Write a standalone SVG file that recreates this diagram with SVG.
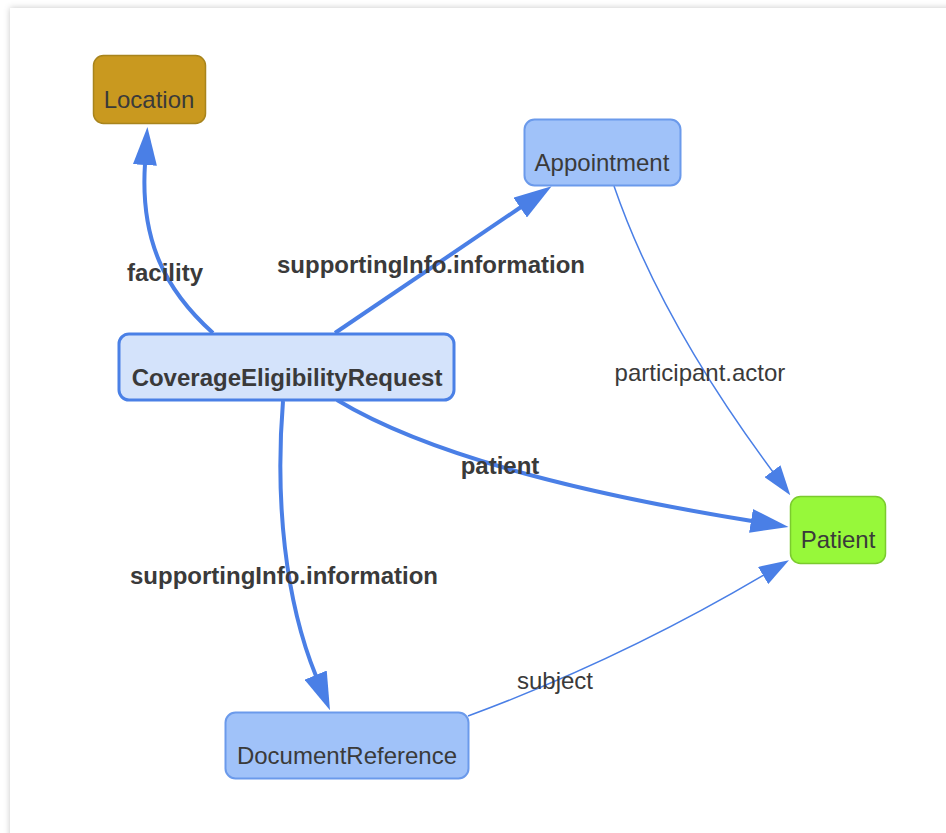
<svg xmlns="http://www.w3.org/2000/svg" width="946" height="833" viewBox="0 0 946 833">
  <defs>
    <filter id="cardShadow" x="-5%" y="-5%" width="110%" height="110%">
      <feDropShadow dx="0" dy="0" stdDeviation="3" flood-color="#000" flood-opacity="0.22"/>
    </filter>
    <marker id="arrowBig" viewBox="0 0 38 24" refX="1" refY="12" markerWidth="38" markerHeight="24" markerUnits="userSpaceOnUse" orient="auto">
      <path d="M0,0 L38,12 L0,24 Z" fill="#4a7fe6"/>
    </marker>
    <marker id="arrowSmall" viewBox="0 0 30 20" refX="1" refY="10" markerWidth="30" markerHeight="20" markerUnits="userSpaceOnUse" orient="auto">
      <path d="M0,0 L30,10 L0,20 Z" fill="#4a7fe6"/>
    </marker>
  </defs>
  <style>
    .node-text { font-family: "Liberation Sans", Arial, sans-serif; font-size: 24px; fill: #3a3a3a; text-anchor: middle; }
    .bold { font-weight: bold; }
    .edge-label { font-family: "Liberation Sans", Arial, sans-serif; font-size: 24px; fill: #3a3a3a; text-anchor: middle; }
    .edge-thick { fill: none; stroke: #4a7fe6; stroke-width: 4; marker-end: url(#arrowBig); }
    .edge-thin { fill: none; stroke: #4a7fe6; stroke-width: 1.5; marker-end: url(#arrowSmall); }
    .blue-node { fill: #a0c2f9; stroke: #6b9aeb; stroke-width: 2; }
  </style>

  <rect width="946" height="833" fill="#ffffff"/>
  <!-- card panel -->
  <rect x="10" y="8" width="960" height="860" fill="#ffffff" filter="url(#cardShadow)"/>

  <g id="edges">
    <!-- facility -->
    <path class="edge-thick" d="M213,333 C165,290 140,240 145,164"/>
    <text class="edge-label bold" x="165" y="281">facility</text>
    <!-- supportingInfo.information to Appointment -->
    <path class="edge-thick" d="M335,333 L521,207"/>
    <text class="edge-label bold" x="431" y="273">supportingInfo.information</text>
    <!-- patient -->
    <path class="edge-thick" d="M337,400 C420,450 560,490 752,521"/>
    <text class="edge-label bold" x="500" y="474">patient</text>
    <!-- participant.actor -->
    <path class="edge-thin" d="M614,186 Q660,320 773,472"/>
    <text class="edge-label" x="700" y="381">participant.actor</text>
    <!-- supportingInfo.information to DocumentReference -->
    <path class="edge-thick" d="M283,401 C275,500 285,600 316,676"/>
    <text class="edge-label bold" x="284" y="584">supportingInfo.information</text>
    <!-- subject -->
    <path class="edge-thin" d="M468,716 Q620,660 764,575"/>
    <text class="edge-label" x="555" y="689">subject</text>
  </g>

  <g id="location">
    <rect x="93.5" y="55.5" width="112" height="68" rx="10" fill="#c9991f" stroke="#a8841c" stroke-width="1.5"/>
    <text class="node-text" x="149" y="108">Location</text>
  </g>
  <g id="appointment">
    <rect class="blue-node" x="524.5" y="119.5" width="156" height="66" rx="10"/>
    <text class="node-text" x="602" y="171">Appointment</text>
  </g>
  <g id="coverageEligibilityRequest">
    <rect x="119" y="334" width="335" height="66" rx="10" fill="#d4e3fb" stroke="#4a80e6" stroke-width="3"/>
    <text class="node-text bold" x="287" y="386">CoverageEligibilityRequest</text>
  </g>
  <g id="patient">
    <rect x="790.5" y="496.5" width="95" height="67" rx="10" fill="#97f83a" stroke="#7bcb2e" stroke-width="1.5"/>
    <text class="node-text" x="838" y="548">Patient</text>
  </g>
  <g id="documentReference">
    <rect class="blue-node" x="225.5" y="712.5" width="243" height="66" rx="10"/>
    <text class="node-text" x="347" y="764">DocumentReference</text>
  </g>
</svg>
